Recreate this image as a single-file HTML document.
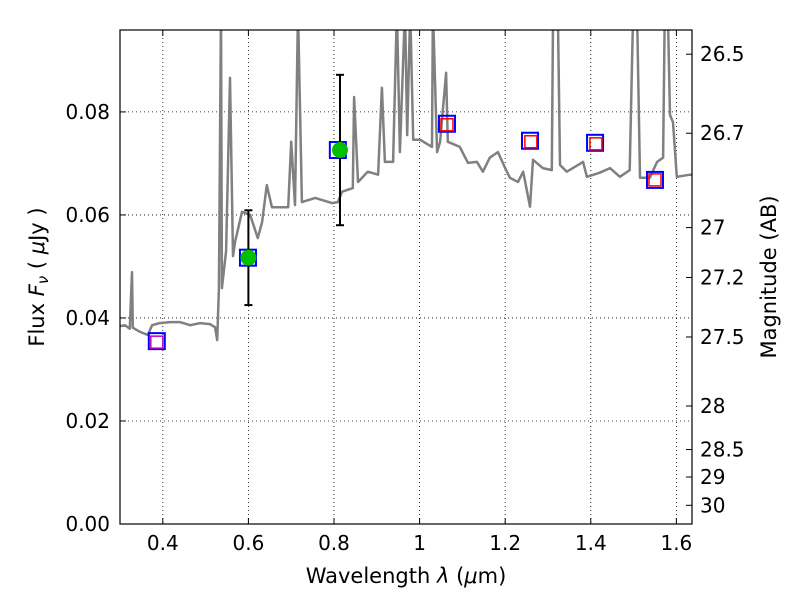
<!DOCTYPE html>
<html><head><meta charset="utf-8"><style>
body{margin:0;background:#fff}
svg text{font-family:"DejaVu Sans","Liberation Sans",sans-serif;fill:#000}
</style></head><body>
<svg id="chart" width="800" height="600" xmlns="http://www.w3.org/2000/svg">
<rect width="800" height="600" fill="#fff"/>
<defs><clipPath id="pc"><rect x="120" y="30" width="572" height="494"/></clipPath></defs>
<g id="grid"></g>
<g id="marks" clip-path="url(#pc)"></g>
<rect x="120" y="30" width="572" height="494" fill="none" stroke="#000" stroke-width="1.2"/>
<g id="axes"></g>
<text x="406" y="583" font-size="21" text-anchor="middle">Wavelength  <tspan font-style="italic">λ</tspan> (<tspan font-style="italic">μ</tspan>m)</text>
<text transform="translate(44,277) rotate(-90)" font-size="21" text-anchor="middle">Flux  <tspan font-style="italic">F<tspan font-size="15" dy="4">ν</tspan></tspan><tspan dy="-4">  (  </tspan><tspan font-style="italic">μ</tspan>Jy )</text>
<text transform="translate(776,277) rotate(-90)" font-size="21" text-anchor="middle">Magnitude (AB)</text>
</svg>
<script>
const specWave=[0.300,0.312,0.323,0.328,0.330,0.347,0.365,0.375,0.393,0.417,0.440,0.464,0.487,0.510,0.522,0.527,0.531,0.536,0.538,0.548,0.557,0.564,0.569,0.585,0.604,0.622,0.632,0.643,0.655,0.693,0.700,0.709,0.716,0.725,0.756,0.795,0.809,0.819,0.844,0.847,0.856,0.879,0.903,0.912,0.919,0.938,0.947,0.954,0.966,0.971,0.978,0.985,1.001,1.029,1.031,1.041,1.048,1.062,1.066,1.094,1.113,1.134,1.148,1.164,1.183,1.200,1.211,1.230,1.242,1.258,1.265,1.288,1.309,1.312,1.323,1.328,1.344,1.382,1.391,1.421,1.445,1.468,1.491,1.499,1.508,1.515,1.538,1.555,1.569,1.573,1.580,1.585,1.592,1.601,1.632,1.645];
const specFlux=[0.0384,0.0386,0.0379,0.0489,0.0381,0.0373,0.0367,0.0386,0.0390,0.0392,0.0392,0.0386,0.0390,0.0388,0.0382,0.0357,0.0456,0.100,0.0458,0.053,0.0866,0.052,0.0548,0.0606,0.060,0.0555,0.0586,0.0658,0.0615,0.0615,0.0742,0.0619,0.100,0.0625,0.0633,0.0623,0.0625,0.0645,0.0652,0.0829,0.0664,0.0684,0.0678,0.0847,0.0703,0.0703,0.100,0.0722,0.100,0.0755,0.100,0.0746,0.0746,0.0732,0.100,0.0722,0.0742,0.0876,0.0742,0.0732,0.0701,0.0703,0.0684,0.0711,0.0722,0.0691,0.0672,0.0664,0.0684,0.0616,0.0707,0.0691,0.0687,0.100,0.100,0.0697,0.0684,0.0703,0.0674,0.0682,0.0691,0.0674,0.0687,0.100,0.100,0.0672,0.0672,0.0703,0.0711,0.100,0.100,0.0794,0.0780,0.0674,0.0678,0.0678];
const modelWave=[0.386,0.599,0.809,1.064,1.258,1.410,1.550];
const modelFlux=[0.0355,0.0517,0.0726,0.0777,0.0744,0.0740,0.0668];
const innerWave=[0.386,1.064,1.260,1.412,1.550];
const innerFlux=[0.0353,0.0775,0.0742,0.0738,0.0668];
const innerColor=["#c000c0","red","red","red","red"];
const obsWave=[0.600,0.814];
const obsFlux=[0.0517,0.0726];
const obsErr=[0.0092,0.0146];
const xTicks=[0.4,0.6,0.8,1.0,1.2,1.4,1.6];
const xTickLabels=["0.4","0.6","0.8","1","1.2","1.4","1.6"];
const yTicks=[0,0.02,0.04,0.06,0.08];
const yTickLabels=["0.00","0.02","0.04","0.06","0.08"];
const magTicks=[26.5,26.7,27,27.2,27.5,28,28.5,29,30];
const magTickLabels=["26.5","26.7","27","27.2","27.5","28","28.5","29","30"];

const X0=120,X1=692,Y0=524,Y1=30,xmin=0.3,xmax=1.6365,ymin=0,ymax=0.0959;
const sx=v=>X0+(v-xmin)/(xmax-xmin)*(X1-X0);
const sy=v=>Y0-(v-ymin)/(ymax-ymin)*(Y0-Y1);
const magToFlux=m=>Math.pow(10,(23.9-m)/2.5);
const NS="http://www.w3.org/2000/svg";
function mk(tag,attrs,parent){const e=document.createElementNS(NS,tag);for(const k in attrs)e.setAttribute(k,attrs[k]);parent.appendChild(e);return e;}
const grid=document.getElementById('grid'),marks=document.getElementById('marks'),axes=document.getElementById('axes');

xTicks.forEach((t,i)=>{const x=sx(t);
 let g=mk('line',{x1:x,x2:x,y1:Y1,y2:Y0,stroke:'#000','stroke-width':0.8,'stroke-dasharray':'1,3'},grid);
 
 
 mk('line',{x1:x,x2:x,y1:Y0,y2:Y0-6,stroke:'#000'},axes);
 mk('line',{x1:x,x2:x,y1:Y1,y2:Y1+6,stroke:'#000'},axes);
 const tx=mk('text',{x:x,y:Y0+26,'font-size':20,'text-anchor':'middle'},axes);tx.textContent=xTickLabels[i];
 
 
});
yTicks.forEach((t,i)=>{const y=sy(t);
 if(t>0){let g=mk('line',{x1:X0,x2:X1,y1:y,y2:y,stroke:'#000','stroke-width':0.8,'stroke-dasharray':'1,3'},grid);
 
 }
 mk('line',{x1:X0,x2:X0+6,y1:y,y2:y,stroke:'#000'},axes);
 const tx=mk('text',{x:X0-10,y:y+7,'font-size':20,'text-anchor':'end'},axes);tx.textContent=yTickLabels[i];
 
 
});
magTicks.forEach((m,i)=>{const y=sy(magToFlux(m));
 mk('line',{x1:X1,x2:X1-6,y1:y,y2:y,stroke:'#000'},axes);
 const tx=mk('text',{x:X1+8,y:y+7,'font-size':20},axes);tx.textContent=magTickLabels[i];
 
 
});
const pts=specWave.map((w,i)=>sx(w).toFixed(1)+','+sy(specFlux[i]).toFixed(1)).join(' ');
const sp=mk('polyline',{points:pts,fill:'none',stroke:'#808080','stroke-width':2.5,'stroke-linejoin':'round'},marks);


modelWave.forEach((w,i)=>{const x=sx(w),y=sy(modelFlux[i]);
 const r=mk('rect',{x:x-8,y:y-8,width:16,height:16,fill:'none',stroke:'blue','stroke-width':2},marks);
 
 
});
innerWave.forEach((w,i)=>{const x=sx(w),y=sy(innerFlux[i]);
 const r=mk('rect',{x:x-6,y:y-6,width:12,height:12,fill:'none',stroke:innerColor[i],'stroke-width':1.5},marks);
 
 
});
obsWave.forEach((w,i)=>{const x=sx(w),yt=sy(obsFlux[i]+obsErr[i]),yb=sy(obsFlux[i]-obsErr[i]);
 const g=mk('g',{},marks);
 
 
 mk('line',{x1:x,x2:x,y1:yt,y2:yb,stroke:'#000','stroke-width':2},g);
 mk('line',{x1:x-4,x2:x+4,y1:yt,y2:yt,stroke:'#000','stroke-width':2},g);
 mk('line',{x1:x-4,x2:x+4,y1:yb,y2:yb,stroke:'#000','stroke-width':2},g);
 const c=mk('circle',{cx:x,cy:sy(obsFlux[i]),r:8,fill:'#00c000'},marks);
 
 
});
</script>
</body></html>
